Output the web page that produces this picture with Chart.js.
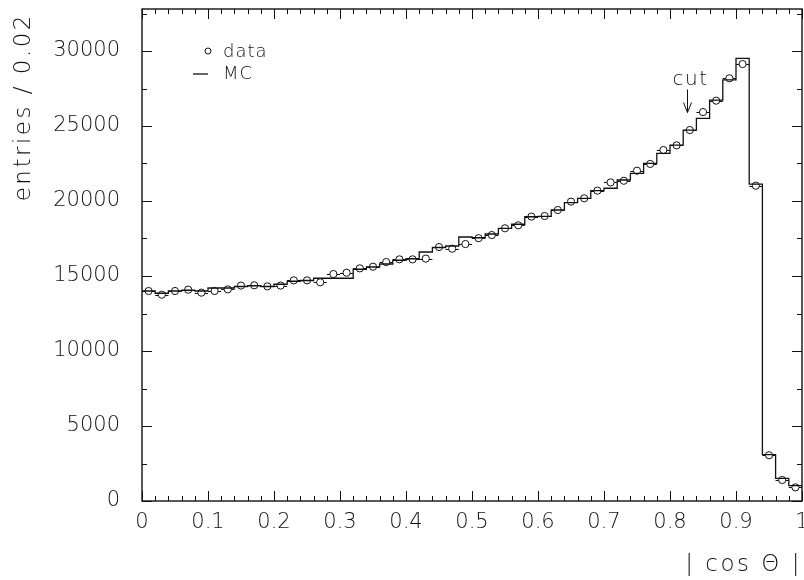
<!DOCTYPE html>
<html>
<head>
<meta charset="utf-8">
<script src="https://cdn.jsdelivr.net/npm/chart.js@4.4.1/dist/chart.umd.min.js"></script>
<style>
  html, body { margin: 0; padding: 0; background: #fff; }
  #wrap { width: 804px; height: 580px; position: relative; }
</style>
</head>
<body>
<div id="wrap"><canvas id="c" width="804" height="580"></canvas></div>
<script>
// ---- data ----
const binCenters = [0.01,0.03,0.05,0.07,0.09,0.11,0.13,0.15,0.17,0.19,
                    0.21,0.23,0.25,0.27,0.29,0.31,0.33,0.35,0.37,0.39,
                    0.41,0.43,0.45,0.47,0.49,0.51,0.53,0.55,0.57,0.59,
                    0.61,0.63,0.65,0.67,0.69,0.71,0.73,0.75,0.77,0.79,
                    0.81,0.83,0.85,0.87,0.89,0.91,0.93,0.95,0.97,0.99];
const binWidth = 0.02;
const dataValues = [14000,13750,14000,14090,13890,14000,14110,14360,14380,14310,
                    14360,14710,14710,14580,15130,15220,15510,15620,15930,16110,
                    16110,16160,16930,16820,17130,17520,17730,18180,18380,18960,
                    19000,19400,19960,20180,20690,21240,21350,22020,22470,23400,
                    23710,24730,25930,26690,28180,29130,21020,3050,1400,910];
const mcValues   = [14000,13850,14000,14050,14000,14200,14200,14300,14350,14300,
                    14450,14650,14700,14850,14850,14850,15450,15600,15800,16050,
                    16150,16600,16900,17000,17600,17550,17800,18180,18450,18950,
                    18980,19400,19890,20180,20690,20850,21400,21840,22510,23180,
                    23730,24730,25510,26730,28070,29510,21130,3090,1510,1020];
const xTickValues = [0,0.1,0.2,0.3,0.4,0.5,0.6,0.7,0.8,0.9,1];
const xTickLabels = ['0','0.1','0.2','0.3','0.4','0.5','0.6','0.7','0.8','0.9','1'];
const yTickValues = [0,5000,10000,15000,20000,25000,30000];
const yTickLabels = ['0','5000','10000','15000','20000','25000','30000'];
const seriesNames = ['data', 'MC'];
const xTitle = '| cos \u0398 |';
const yTitle = 'entries / 0.02';
const cutLabel = 'cut';
const cutX = 0.825;
const cutY = 25900;

// ---- build library tables ----
const dataPoints = binCenters.map((c, i) => ({ x: c, y: dataValues[i] }));
// step line: a point at each bin's lower edge, plus the last upper edge
const mcPoints = binCenters.map((c, i) => ({ x: c - binWidth / 2, y: mcValues[i] }));
mcPoints.push({ x: binCenters[binCenters.length - 1] + binWidth / 2, y: mcValues[mcValues.length - 1] });

const FONT = '"DejaVu Sans", "Liberation Sans", sans-serif';
const INK = '#111';
const W = 200;

const zeroPad = s => { s.paddingLeft = 0; s.paddingRight = 0; s.paddingTop = 0; s.paddingBottom = 0; };

const framePlugin = {
  id: 'frame',
  afterDraw(chart) {
    const { ctx, chartArea: a, scales } = chart;
    const xs = scales.x, ys = scales.y;
    ctx.save();
    ctx.strokeStyle = INK;
    ctx.lineWidth = 1.4;
    ctx.strokeRect(a.left, a.top, a.right - a.left, a.bottom - a.top);
    ctx.lineWidth = 1;
    const xt = xs.ticks.map(t => t.value);
    const drawX = (v, len) => {
      const px = Math.round(xs.getPixelForValue(v)) + 0.5;
      ctx.beginPath();
      ctx.moveTo(px, a.bottom); ctx.lineTo(px, a.bottom - len);
      ctx.moveTo(px, a.top); ctx.lineTo(px, a.top + len);
      ctx.stroke();
    };
    for (let k = 0; k < xt.length; k++) {
      drawX(xt[k], 10);
      if (k < xt.length - 1) {
        for (let s = 1; s < 5; s++) drawX(xt[k] + (xt[k + 1] - xt[k]) * s / 5, 5);
      }
    }
    const yt = ys.ticks.map(t => t.value);
    const drawY = (v, len) => {
      if (v > ys.max) return;
      const py = Math.round(ys.getPixelForValue(v)) + 0.5;
      ctx.beginPath();
      ctx.moveTo(a.left, py); ctx.lineTo(a.left + len, py);
      ctx.moveTo(a.right, py); ctx.lineTo(a.right - len, py);
      ctx.stroke();
    };
    const ystep = yt[1] - yt[0];
    for (let k = 0; k < yt.length; k++) {
      drawY(yt[k], 10);
      drawY(yt[k] + ystep / 2, 5);
    }

    // axis titles
    ctx.fillStyle = INK;
    ctx.font = W + ' 23px ' + FONT;
    ctx.letterSpacing = '2.5px';
    ctx.textAlign = 'right';
    ctx.textBaseline = 'middle';
    ctx.fillText(xTitle, a.right, 565);
    ctx.save();
    ctx.translate(24, a.top + 4);
    ctx.rotate(-Math.PI / 2);
    ctx.textAlign = 'right';
    ctx.fillText(yTitle, 0, 0);
    ctx.restore();

    // legend
    ctx.letterSpacing = '1px';
    ctx.font = W + ' 18px ' + FONT;
    ctx.textAlign = 'left';
    ctx.textBaseline = 'middle';
    ctx.fillText(seriesNames[0], 223, 52);
    ctx.fillText(seriesNames[1], 223, 74);
    ctx.beginPath();
    ctx.arc(208, 51, 3, 0, Math.PI * 2);
    ctx.lineWidth = 1;
    ctx.stroke();
    ctx.beginPath();
    ctx.moveTo(193, 74); ctx.lineTo(208, 74);
    ctx.lineWidth = 1.3;
    ctx.stroke();

    // cut annotation
    const cx = Math.round(xs.getPixelForValue(cutX)) + 0.5;
    const cy = ys.getPixelForValue(cutY);
    ctx.font = W + ' 20px ' + FONT;
    ctx.letterSpacing = '1.5px';
    ctx.textAlign = 'center';
    ctx.textBaseline = 'alphabetic';
    ctx.fillText(cutLabel, cx + 3, cy - 28);
    ctx.lineWidth = 1;
    ctx.beginPath();
    ctx.moveTo(cx, cy - 23); ctx.lineTo(cx, cy);
    ctx.moveTo(cx - 4, cy - 10); ctx.lineTo(cx, cy); ctx.lineTo(cx + 4, cy - 10);
    ctx.stroke();
    ctx.restore();
  }
};

const errPlugin = {
  id: 'xerr',
  beforeDatasetDraw(chart, args) {
    if (args.index !== 1) return;
    const { ctx, scales } = chart;
    ctx.save();
    ctx.strokeStyle = INK;
    ctx.lineWidth = 1;
    binCenters.forEach((c, i) => {
      const y = Math.round(scales.y.getPixelForValue(dataValues[i])) + 0.5;
      ctx.beginPath();
      ctx.moveTo(scales.x.getPixelForValue(c - binWidth / 2), y);
      ctx.lineTo(scales.x.getPixelForValue(c + binWidth / 2), y);
      ctx.stroke();
    });
    ctx.restore();
  }
};

const chart = new Chart(document.getElementById('c'), {
  type: 'scatter',
  data: {
    datasets: [
      { label: seriesNames[1], data: mcPoints, showLine: true, stepped: 'before',
        borderColor: INK, borderWidth: 1.3, pointRadius: 0, fill: false },
      { label: seriesNames[0], data: dataPoints, showLine: false,
        pointRadius: 3.6, pointBackgroundColor: '#fff', pointBorderColor: INK,
        pointBorderWidth: 1 }
    ]
  },
  options: {
    responsive: false,
    animation: false,
    devicePixelRatio: 1,
    layout: { autoPadding: false, padding: { left: 0, top: 9, right: 2, bottom: 0 } },
    plugins: { legend: { display: false }, tooltip: { enabled: false } },
    scales: {
      x: {
        type: 'linear', min: 0, max: 1,
        grid: { display: false, drawTicks: false },
        border: { display: false },
        afterFit: s => { s.height = 79; zeroPad(s); },
        afterBuildTicks: s => { s.ticks = xTickValues.map(v => ({ value: v })); },
        ticks: {
          padding: 9, color: INK, maxRotation: 0, autoSkip: false,
          font: { family: FONT, size: 21, weight: W },
          callback: (v, i) => xTickLabels[i]
        }
      },
      y: {
        type: 'linear', min: 0, max: 32800,
        grid: { display: false, drawTicks: false },
        border: { display: false },
        afterFit: s => { s.width = 142; zeroPad(s); },
        afterBuildTicks: s => { s.ticks = yTickValues.map(v => ({ value: v })); },
        ticks: {
          padding: 22, color: INK, autoSkip: false,
          font: { family: FONT, size: 21, weight: W },
          callback: (v, i) => yTickLabels[i]
        }
      }
    }
  },
  plugins: [framePlugin, errPlugin]
});
</script>
</body>
</html>
